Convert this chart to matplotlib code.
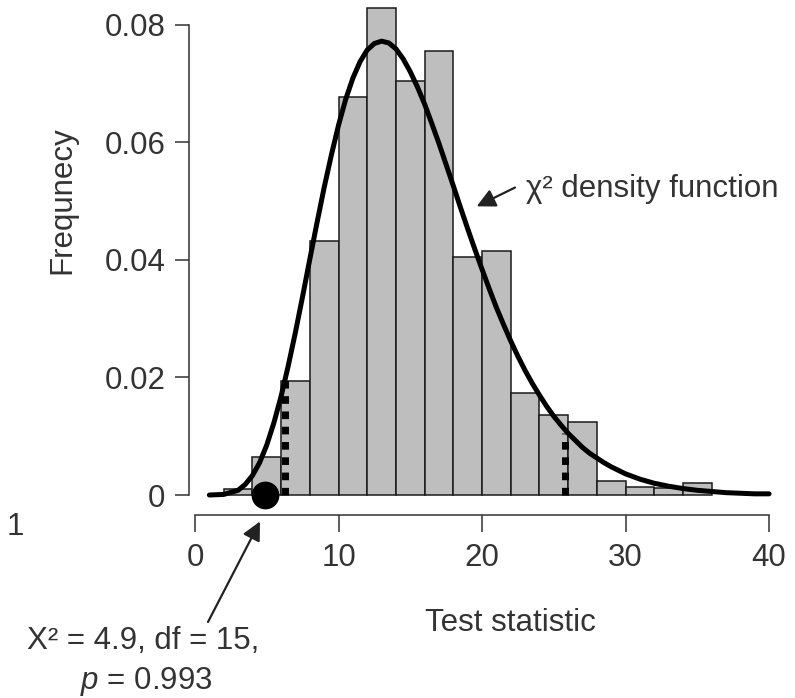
import matplotlib
matplotlib.use("Agg")
import matplotlib.pyplot as plt

plt.rcParams['font.family'] = ['Liberation Sans', 'DejaVu Sans']
plt.rcParams['mathtext.fontset'] = 'custom'
plt.rcParams['mathtext.rm'] = 'Liberation Sans'
plt.rcParams['mathtext.it'] = 'Liberation Sans:italic'

# histogram of simulated test statistics (density scale, bins of width 2)
bin_left = [2, 4, 6, 8, 10, 12, 14, 16, 18, 20, 22, 24, 26, 28, 30, 32, 34]
bin_density = [0.0010, 0.0065, 0.0194, 0.0432, 0.0677, 0.0829, 0.0704, 0.0755,
               0.0405, 0.0415, 0.0174, 0.0136, 0.0125, 0.0023, 0.0013, 0.0012, 0.0021]

# chi-square density curve
curve_x = [1, 2, 3, 3.5, 4, 4.5, 5, 5.5, 6, 6.5, 7, 7.5, 8, 8.5, 9, 9.5,
           10, 10.5, 11, 11.5, 12, 12.5, 13, 13.5, 14, 14.5, 15, 15.5,
           16, 16.5, 17, 17.5, 18, 18.5, 19, 19.5, 20, 20.5, 21, 21.5,
           22, 22.5, 23, 23.5, 24, 24.5, 25, 25.5, 26, 26.5, 27, 27.5,
           28, 28.5, 29, 29.5, 30, 31, 32, 33, 34, 35, 36, 37, 38, 39, 40]
curve_y = [0.0000, 0.0001, 0.0008, 0.0018, 0.0033, 0.0055, 0.0085, 0.0123,
           0.0168, 0.0220, 0.0277, 0.0338, 0.0401, 0.0463, 0.0523, 0.0578,
           0.0629, 0.0673, 0.0709, 0.0737, 0.0757, 0.0768, 0.0772, 0.0769,
           0.0759, 0.0742, 0.0720, 0.0694, 0.0665, 0.0632, 0.0598, 0.0562,
           0.0526, 0.0489, 0.0453, 0.0418, 0.0384, 0.0351, 0.0319, 0.0290,
           0.0262, 0.0236, 0.0212, 0.0190, 0.0170, 0.0151, 0.0134, 0.0119,
           0.0105, 0.0093, 0.0081, 0.0071, 0.0063, 0.0055, 0.0048, 0.0042,
           0.0036, 0.0027, 0.0020, 0.0015, 0.0011, 0.0008, 0.0006, 0.0004,
           0.0003, 0.0002, 0.0002]

# dashed critical lines (x, height) and observed statistic
crit_x = [6.3, 25.8]
crit_top = [0.0196, 0.0105]
observed = 4.9

x_ticks = [0, 10, 20, 30, 40]
y_ticks = [0, 0.02, 0.04, 0.06, 0.08]
y_ticklabels = ['0', '0.02', '0.04', '0.06', '0.08']

W, H = 795, 698
fig = plt.figure(figsize=(W / 100, H / 100), dpi=100)
ax = fig.add_axes([189 / W, (H - 515) / H, 587.2 / W, 515 / H])


def px(x, y):
    # figure pixel (from top-left) to figure fraction
    return x / W, 1 - y / H


ax.bar(bin_left, bin_density, width=2, align='edge', color='#bebebe',
       edgecolor='#1a1a1a', linewidth=1.1, zorder=2)

ax.vlines(crit_x, 0, crit_top, colors='black', linewidth=5,
          linestyles=[(0, (1.1, 1.1))], zorder=3)

ax.plot(curve_x, curve_y, color='black', linewidth=3.6,
        solid_capstyle='round', solid_joinstyle='round', zorder=4)

ax.plot([observed], [0], 'o', color='black', markersize=19, zorder=5,
        clip_on=False)

ax.set_xlim(-0.418, 40.5)
ax.set_ylim(-0.0034, 0.0842)

for s in ['top', 'right']:
    ax.spines[s].set_visible(False)
ax.spines['left'].set_bounds(0, 0.08)
ax.spines['bottom'].set_bounds(0, 40)
for s in ['left', 'bottom']:
    ax.spines[s].set_linewidth(1.1)
    ax.spines[s].set_color('#333333')

ax.set_xticks(x_ticks)
ax.set_yticks(y_ticks)
ax.set_yticklabels(y_ticklabels)
ax.tick_params(axis='both', labelsize=22.5, width=1.1, color='#333333',
               labelcolor='#333333')
ax.tick_params(axis='x', length=12, pad=8)
ax.tick_params(axis='y', length=10, pad=7)

# annotations
ax.annotate('', xy=(19.63, 0.0491), xytext=(22.3, 0.0523),
            arrowprops=dict(arrowstyle='-|>', color='#222222', lw=1.6,
                            mutation_scale=28, shrinkA=0, shrinkB=0))
ax.text(23.1, 0.0521, 'χ² density function', fontsize=22.5, color='#333333',
        va='center', ha='left')

ax.annotate('', xy=(4.53, -0.0045), xytext=(0.906, -0.0216),
            arrowprops=dict(arrowstyle='-|>', color='#222222', lw=1.6,
                            mutation_scale=28, shrinkA=0, shrinkB=0),
            annotation_clip=False)

fig.text(*px(143, 641), 'X² = 4.9, df = 15,', fontsize=22.5, color='#333333',
         ha='center', va='center')
fig.text(*px(146, 681), '$p$ = 0.993', fontsize=22.5, color='#333333',
         ha='center', va='center')

fig.text(*px(510, 623), 'Test statistic', fontsize=22.5, color='#333333',
         ha='center', va='center')
fig.text(*px(62, 200), 'Frequnecy', fontsize=22.5, color='#333333',
         ha='center', va='center', rotation=90)
fig.text(*px(15, 527), '1', fontsize=22.5, color='#333333',
         ha='center', va='center')

fig.savefig('out.png', dpi=100)
